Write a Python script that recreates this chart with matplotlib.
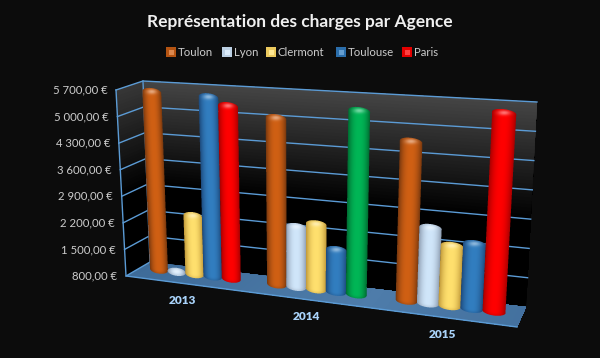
import matplotlib
matplotlib.use('Agg')
import matplotlib.pyplot as plt
import numpy as np

from matplotlib.collections import PolyCollection
from matplotlib.patches import Rectangle

# data
years = ['2013', '2014', '2015']
agences = ['Toulon', 'Lyon', 'Clermont', 'Toulouse', 'Paris']
toulon = [5560, 5080, 4720]
lyon = [830, 2360, 2670]
clermont = [2370, 2480, 2290]
toulouse = [5510, 1890, 2390]
paris = [5310, 5390, 5550]
ticks = [800, 1500, 2200, 2900, 3600, 4300, 5000, 5700]
tick_labels = ['800,00 €', '1 500,00 €', '2 200,00 €', '2 900,00 €',
               '3 600,00 €', '4 300,00 €', '5 000,00 €', '5 700,00 €']

# edge colour, middle colour
orange = ((118, 55, 14), (208, 96, 20))
silver = ((140, 155, 175), (208, 230, 250))
yellow = ((190, 150, 55), (255, 224, 110))
blue = ((28, 72, 122), (50, 126, 192))
red = ((165, 0, 0), (255, 0, 0))
green = ((0, 105, 48), (0, 182, 86))
series_colors = [orange, silver, yellow, blue, red]
swatch_x = [171, 227, 271, 341, 407]

# corners of the 3d box on the picture, (x, depth, z)
corners = {(0, 0, 0): (126, 276), (1, 0, 0): (517, 327),
           (0, 1, 0): (150, 262), (1, 1, 0): (526, 307),
           (0, 0, 1): (116, 90), (1, 0, 1): (530, 115),
           (0, 1, 1): (143, 81), (1, 1, 1): (537, 102)}


def scale_z(v):
    return (np.asarray(v, dtype=float) - ticks[0]) / (ticks[-1] - ticks[0])


def warp(t):
    w = 0.866
    return t * w / (1 + (w - 1) * t)


def project(x, d, z):
    px, py = 0, 0
    for (a, b, c), (cx, cy) in corners.items():
        k = (x if a else 1 - x) * (d if b else 1 - d) * (z if c else 1 - z)
        px = px + k * cx
        py = py + k * cy
    return px, py


def mix(c1, c2, k):
    return tuple((c1[n] + (c2[n] - c1[n]) * k) / 255 for n in range(3))


def quads(ax, polys, colors, zorder):
    pc = PolyCollection(polys, facecolors=colors, edgecolors='none', linewidths=0, zorder=zorder)
    ax.add_collection(pc)


def draw_walls(ax):
    n = 60
    zs = np.linspace(0, 1, n + 1)
    back, side, cols = [], [], []
    for a in zs[:-1]:
        # each strip runs on to the top so there are no seams
        back.append([project(0, 1, a), project(1, 1, a), project(1, 1, 1), project(0, 1, 1)])
        side.append([project(0, 0, a), project(0, 1, a), project(0, 1, 1), project(0, 0, 1)])
        k = max(0, (a - 0.42) / 0.58)
        cols.append(mix((0, 0, 0), (70, 70, 70), k))
    quads(ax, back, cols, 1)
    quads(ax, side, [tuple(np.array(c) * 0.8) for c in cols], 1)

    # floor
    xs = np.linspace(0, 1, 60)
    floor, floor_cols = [], []
    for a in xs[:-1]:
        floor.append([project(a, 0, 0), project(1, 0, 0), project(1, 1, 0), project(a, 1, 0)])
        floor_cols.append(mix((52, 96, 140), (78, 124, 170), 1 - abs(a - 0.6)))
    quads(ax, floor, floor_cols, 1)

    line = '#5b9bd5'
    for v in ticks[1:]:
        z = scale_z(v)
        p = [project(0, 0, z), project(0, 1, z), project(1, 1, z)]
        ax.plot([q[0] for q in p], [q[1] for q in p], color=line, lw=1, zorder=2)
    for d in [0, 1]:
        p = [project(0, d, 0), project(0, d, 1)]
        ax.plot([q[0] for q in p], [q[1] for q in p], color=line, lw=1, zorder=2)
    p = [project(0, 1, 0), project(0, 0, 0), project(1, 0, 0)]
    ax.plot([q[0] for q in p], [q[1] for q in p], color=line, lw=1, zorder=2)


def draw_bar(ax, i, j, val, col, zorder):
    step = 0.052
    r = 0.0265
    depth = 0.5
    base_off = -2
    ry = 4
    ss = 4  # supersampling for smooth edges
    t = (i + 0.5) / 3 + (j - 2) * step
    z = scale_z(val)

    bx, by = project(warp(t), depth, 0)
    tx, ty = project(warp(t), depth, z)
    by = by + base_off
    ty = min(ty, by)
    lx0, ly0 = project(warp(t - r), depth, 0)
    rx0, ry0 = project(warp(t + r), depth, 0)
    lx1, _ = project(warp(t - r), depth, z)
    rx1, _ = project(warp(t + r), depth, z)
    hw0, hw1 = (rx0 - lx0) / 2, (rx1 - lx1) / 2
    slope = (ry0 - ly0) / (rx0 - lx0)

    x0 = int(min(bx - hw0, tx - hw1)) - 3
    x1 = int(max(bx + hw0, tx + hw1)) + 4
    y0 = int(ty - ry) - 4
    y1 = int(by + ry) + 5
    xs = x0 + (np.arange((x1 - x0) * ss) + 0.5) / ss
    ys = y0 + (np.arange((y1 - y0) * ss) + 0.5) / ss
    X, Y = np.meshgrid(xs, ys)

    f = np.clip((Y - by) / min(ty - by, -0.01), 0, 1)
    cx = bx + (tx - bx) * f
    hw = hw0 + (hw1 - hw0) * f
    s = (X - cx) / hw
    arc = np.sqrt(np.clip(1 - s ** 2, 0, 1)) * ry
    bottom = by + (X - bx) * slope + arc
    top = ty + (X - tx) * slope - arc
    inside = (np.abs(s) <= 1) & (Y <= bottom) & (Y >= top)

    edge = np.array(col[0]) / 255
    mid = np.array(col[1]) / 255
    k = (1 - np.abs(s).clip(0, 1) ** 2.2)[..., None]
    rgb = edge + (mid - edge) * k
    # light on the rounded top, darker rims
    glow = np.exp(-((X - tx) / (hw1 * 0.5)) ** 2 - ((Y - ty + 0.5) / 2.5) ** 2)[..., None] * 0.45
    rgb = rgb + (1 - rgb) * glow
    rim = (np.exp(-((Y - top) / 1.6) ** 2) + np.exp(-((bottom - Y) / 2.0) ** 2))[..., None] * 0.3
    rgb = rgb + (edge - rgb) * rim

    # average down to screen pixels
    a = inside.astype(float)
    h, w = a.shape
    a_small = a.reshape(h // ss, ss, w // ss, ss).mean(axis=(1, 3))
    rgb_small = (rgb * a[..., None]).reshape(h // ss, ss, w // ss, ss, 3).mean(axis=(1, 3))
    rgb_small = rgb_small / np.maximum(a_small, 1e-6)[..., None]
    img = np.dstack([np.clip(rgb_small, 0, 1), a_small])
    ax.imshow(img, extent=(x0, x1, y1, y0), interpolation='nearest', aspect='auto', zorder=zorder)


fig = plt.figure(figsize=(6, 3.58), dpi=100, facecolor='#0c0c0c')
ax = fig.add_axes([0, 0, 1, 1])

draw_walls(ax)

all_series = [toulon, lyon, clermont, toulouse, paris]
for i in range(len(years)):
    for j, values in enumerate(all_series):
        col = series_colors[j]
        # Paris 2014 is green on the original
        if j == 4 and i == 1:
            col = green
        draw_bar(ax, i, j, values[i], col, 3 + i * 5 + j * 0.5)

ax.set_xlim(0, 600)
ax.set_ylim(358, 0)
ax.axis('off')

for v, label in zip(ticks, tick_labels):
    x, y = project(0, 0, scale_z(v))
    ax.text(x - 8.5, y, label, color='#cccccc', ha='right', va='center', fontsize=8.2, family='Lato')

for i, year in enumerate(years):
    x, y = project(warp((i + 0.5) / 3), 0, 0)
    ax.text(x - 1, y + 17, year, color='#a9d3fa', ha='center', va='center', fontsize=8.6,
            fontweight='heavy', family='Lato')

ax.text(300, 22, 'Représentation des charges par Agence', color='#f0f0f0', ha='center', va='center',
        fontsize=12.5, fontweight='bold', family='Lato')

for name, x, col in zip(agences, swatch_x, series_colors):
    ax.add_patch(Rectangle((x - 5, 47), 10, 10, color=mix(col[0], col[1], 0.7), lw=0, zorder=5))
    ax.add_patch(Rectangle((x - 2.5, 49.5), 5, 5, color=mix(col[1], (255, 255, 255), 0.25), lw=0, zorder=6))
    ax.text(x + 7, 52, name, color='#cccccc', ha='left', va='center', fontsize=8.2, family='Lato')

plt.savefig('out.png', dpi=100, facecolor=fig.get_facecolor())
plt.close()
